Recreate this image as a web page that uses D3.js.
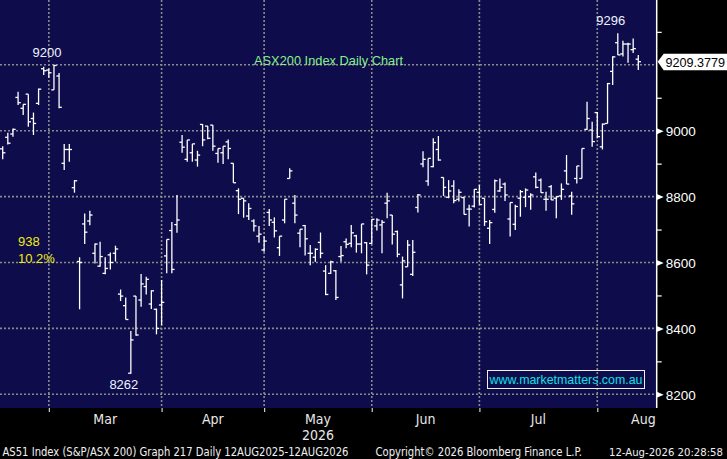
<!DOCTYPE html>
<html><head><meta charset="utf-8">
<script src="https://cdn.jsdelivr.net/npm/d3@7/dist/d3.min.js"></script>
<style>html,body{margin:0;padding:0;background:#000;overflow:hidden}</style>
</head><body><svg id="c" width="727" height="459"></svg>
<script>
// ---- data (ASX200 daily OHLC, Feb-Aug 2026) ----
const openV  = [8945,8980,8990,9101,9068,9111,9037,9083,9188,9184,9124,9166,8901,8943,8827,8603,8717,8726,8628,8589,
                8567,8623,8628,8504,8469,8264,8498,8486,8527,8474,8458,8471,8620,8697,8715,8965,8913,8933,8911,9019,
                9014,9017,8931,8933,8966,8901,8818,8795,8741,8726,8680,8638,8752,8722,8645,8729,8855,8780,8689,8712,
                8628,8616,8661,8574,8567,8575,8618,8663,8658,8681,8656,8660,8658,8711,8714,8780,8744,8694,8532,8587,
                8564,8767,8899,8847,8891,8943,8858,8798,8832,8792,8797,8762,8771,8813,8795,8704,8761,8817,8838,8732,
                8716,8795,8798,8800,8860,8850,8792,8830,8795,8802,8878,8802,8855,8855,9004,9002,9055,8951,9022,9180,
                9267,9233,9263,9246,9217];
const highV  = [8953,8994,9007,9118,9080,9111,9055,9128,9194,9189,9200,9175,8960,8960,8850,8616,8749,8757,8658,8663,
                8616,8630,8651,8518,8494,8392,8498,8565,8557,8516,8460,8547,8670,8723,8805,8987,8972,8960,8939,9020,
                9014,9017,8946,8953,8973,8901,8825,8795,8780,8731,8711,8680,8762,8737,8680,8792,8886,8805,8701,8714,
                8653,8643,8691,8592,8605,8577,8650,8673,8714,8684,8717,8662,8731,8734,8729,8812,8744,8697,8618,8668,
                8668,8808,8938,8916,8977,8984,8858,8850,8850,8822,8800,8775,8822,8835,8795,8729,8852,8855,8843,8782,
                8775,8820,8825,8810,8873,8855,8815,8835,8800,8840,8926,8815,8893,8946,9088,9027,9057,9022,9145,9226,
                9296,9273,9267,9280,9230];
const lowV   = [8913,8958,8982,9078,9048,9012,8987,9078,9169,9161,9124,9068,8881,8906,8812,8458,8656,8713,8597,8587,
                8564,8579,8603,8483,8427,8262,8378,8466,8503,8459,8382,8410,8567,8567,8690,8933,8906,8906,8891,8953,
                8974,8939,8903,8899,8913,8842,8747,8736,8729,8694,8660,8633,8711,8676,8620,8719,8855,8719,8646,8621,
                8592,8602,8613,8501,8565,8486,8602,8643,8646,8630,8628,8564,8656,8697,8628,8734,8655,8616,8491,8587,
                8559,8752,8889,8833,8889,8909,8802,8795,8780,8785,8746,8709,8767,8776,8711,8656,8751,8815,8787,8679,
                8699,8739,8768,8760,8825,8812,8757,8790,8734,8790,8838,8745,8840,8855,9002,8951,8977,8943,9022,9139,
                9230,9225,9206,9236,9184];
const closeV = [8933,8962,9004,9085,9080,9027,9022,9126,9182,9176,9198,9071,8943,8943,8848,8600,8692,8744,8656,8618,
                8582,8600,8641,8498,8427,8365,8380,8535,8549,8514,8400,8479,8670,8579,8729,8950,8972,8960,8926,8972,
                8977,8953,8946,8953,8946,8842,8792,8787,8764,8711,8686,8665,8729,8696,8680,8792,8878,8744,8701,8672,
                8628,8640,8628,8503,8602,8494,8621,8655,8690,8656,8717,8592,8731,8729,8722,8787,8686,8625,8605,8653,
                8631,8805,8913,8916,8964,8911,8828,8817,8788,8813,8746,8762,8822,8776,8724,8721,8848,8828,8805,8782,
                8770,8815,8820,8805,8828,8812,8792,8790,8800,8822,8838,8778,8893,8946,9037,8967,8982,9020,9143,9224,
                9230,9263,9263,9249,9209.3779];
const monthLabels = ["Mar","Apr","May","Jun","Jul","Aug"];
const monthStart  = [9,31,51,72,93,116];      // bar index of first trading day of each month
const monthEndLast = 134;                      // span end used for centring the last month label
const yearLabel = "2026";
const yMajor = [8200,8400,8600,8800,9000];
const yGrid  = [8200,8400,8600,8800,9000,9200];
const yMinor = [8300,8500,8700,8900,9100,9300,9400];
const lastPrice = 9209.3779;
const titleText = "ASX200 Index Daily Chart";
const hiLabels = [{i:10, v:9200, text:"9200", pos:"above"},
                  {i:25, v:8262, text:"8262", pos:"below"},
                  {i:120, v:9296, text:"9296", pos:"above"}];
const rangeText = ["938","10.2%"];
const siteText = "www.marketmatters.com.au";
const footer = ["AS51 Index (S&P/ASX 200) Graph 217 Daily 12AUG2025-12AUG2026",
                "Copyright\u00A9 2026 Bloomberg Finance L.P.",
                "12-Aug-2026 20:28:58"];

// ---- layout ----
const W=727,H=459, plotR=656.7, plotB=408;
const svg=d3.select("#c");
const x=d3.scaleLinear().domain([0,124]).range([2.7,638.3]);
const y=d3.scaleLinear().domain([8200,9000]).range([394.3,130.7]);
const num = d3.format(".4f");

svg.append("rect").attr("x",0).attr("y",0).attr("width",W).attr("height",H).attr("fill","#000");
svg.append("rect").attr("x",0).attr("y",0).attr("width",plotR).attr("height",plotB).attr("fill","#0e0c4a");

const plot=svg.append("g");
// grid
plot.selectAll("line.gy").data(yGrid).join("line")
  .attr("x1",0).attr("x2",plotR).attr("y1",d=>y(d)).attr("y2",d=>y(d))
  .attr("stroke","#8a8a8a").attr("stroke-width",1.6).attr("stroke-dasharray","2,2");
plot.selectAll("line.gx").data(monthStart).join("line")
  .attr("x1",d=>x(d)).attr("x2",d=>x(d)).attr("y1",0).attr("y2",plotB)
  .attr("stroke","#8a8a8a").attr("stroke-width",1.6).attr("stroke-dasharray","2,2");

// title
plot.append("text").attr("x",254).attr("y",64.5).text(titleText)
  .attr("font-family","Liberation Sans, Arial, sans-serif").attr("font-size",13)
  .attr("fill","#86f08a").attr("textLength",149).attr("lengthAdjust","spacingAndGlyphs");

// bars
const idx=d3.range(openV.length);
const bars=plot.append("g").attr("stroke","#ffffff").attr("stroke-width",1.3);
bars.selectAll("line.hl").data(idx).join("line")
  .attr("x1",i=>x(i)).attr("x2",i=>x(i)).attr("y1",i=>y(highV[i])).attr("y2",i=>y(lowV[i]));
bars.selectAll("line.o").data(idx).join("line")
  .attr("x1",i=>x(i)-2.7).attr("x2",i=>x(i)).attr("y1",i=>y(openV[i])).attr("y2",i=>y(openV[i]));
bars.selectAll("line.c").data(idx).join("line")
  .attr("x1",i=>x(i)).attr("x2",i=>x(i)+2.7).attr("y1",i=>y(closeV[i])).attr("y2",i=>y(closeV[i]));

// hi/lo labels
plot.selectAll("text.hl").data(hiLabels).join("text")
  .attr("x",d=>x(d.i)-7).attr("y",d=>d.pos==="above"? y(d.v)-8 : y(d.v)+15)
  .attr("text-anchor","middle").text(d=>d.text)
  .attr("font-family","Liberation Sans, Arial, sans-serif").attr("font-size",13).attr("fill","#eef3ff");
// range labels
plot.selectAll("text.rg").data(rangeText).join("text")
  .attr("x",18).attr("y",(d,k)=>246+k*17).text(d=>d)
  .attr("font-family","Liberation Sans, Arial, sans-serif").attr("font-size",13).attr("fill","#eeee10");

// site box
plot.append("rect").attr("x",487.5).attr("y",370.5).attr("width",157).attr("height",18)
  .attr("fill","none").attr("stroke","#f0f0f0").attr("stroke-width",1);
plot.append("text").attr("x",489.5).attr("y",384).text(siteText)
  .attr("font-family","Liberation Sans, Arial, sans-serif").attr("font-size",13)
  .attr("fill","#10e0e8").attr("textLength",153).attr("lengthAdjust","spacingAndGlyphs");

// right axis
const axR=svg.append("g").attr("transform",`translate(${plotR},0)`);
axR.call(d3.axisRight(y).tickValues(yMajor).tickSize(0).tickPadding(9).tickFormat(d3.format("d")));
axR.select(".domain").remove();
axR.selectAll("text").attr("font-family","Liberation Sans, Arial, sans-serif").attr("font-size",13.5)
  .attr("fill","#ffffff").attr("dy","0.36em");
axR.selectAll(".tick").append("path").attr("d","M0,-3L7,0L0,3Z").attr("fill","#ffffff");
const axMinor=svg.append("g").attr("transform",`translate(${plotR},0)`);
axMinor.call(d3.axisRight(y).tickValues(yMinor).tickSize(5).tickFormat(""));
axMinor.select(".domain").remove();
axMinor.selectAll("line").attr("stroke","#ffffff").attr("stroke-width",1.2);
svg.append("line").attr("x1",plotR).attr("x2",plotR).attr("y1",0).attr("y2",plotB)
  .attr("stroke","#ffffff").attr("stroke-width",1.5);

// last price tag
const lp=y(lastPrice);
svg.append("path").attr("d",`M${plotR+1},${lp} L${plotR+7},${lp-8} L${W},${lp-8} L${W},${lp+8.5} L${plotR+7},${lp+8.5} Z`)
  .attr("fill","#ffffff");
svg.append("text").attr("x",665.5).attr("y",lp+5).text(num(lastPrice))
  .attr("font-family","Liberation Sans, Arial, sans-serif").attr("font-size",12.5).attr("fill","#000")
  .attr("textLength",59.5).attr("lengthAdjust","spacingAndGlyphs");

// bottom axis
const axB=svg.append("g").attr("transform",`translate(0,${plotB})`);
axB.call(d3.axisBottom(x).tickValues(monthStart).tickSize(4).tickFormat(""));
axB.select(".domain").remove();
axB.selectAll("line").attr("stroke","#d0d0d0").attr("stroke-width",1.2);
const ends=monthStart.slice(1).concat([monthEndLast]);
svg.selectAll("text.mon").data(monthLabels).join("text")
  .attr("x",(d,k)=>(x(monthStart[k])+x(ends[k]))/2).attr("y",423.5).attr("text-anchor","middle").text(d=>d)
  .attr("font-family","Liberation Sans Narrow, DejaVu Sans Condensed, sans-serif").attr("font-size",14)
  .attr("fill","#e8e8e8");
svg.append("text").attr("x",(x(monthStart[2])+x(monthStart[3]))/2).attr("y",440).attr("text-anchor","middle")
  .text(yearLabel).attr("font-family","Liberation Sans Narrow, DejaVu Sans Condensed, sans-serif").attr("font-size",14)
  .attr("fill","#e8e8e8");

// footer
const fx=[{x:2.5,len:346,anchor:"start",fs:12.5},{x:375.5,len:206.5,anchor:"start",fs:12.5},{x:723,len:114,anchor:"end",fs:11}];
svg.selectAll("text.ft").data(footer).join("text")
  .attr("x",(d,k)=>fx[k].x).attr("y",456).text(d=>d).attr("textLength",(d,k)=>fx[k].len)
  .attr("text-anchor",(d,k)=>fx[k].anchor)
  .attr("lengthAdjust","spacingAndGlyphs")
  .attr("font-family","Liberation Sans Narrow, DejaVu Sans Condensed, sans-serif").attr("font-size",(d,k)=>fx[k].fs)
  .attr("fill","#f0f0f0");
</script></body></html>
